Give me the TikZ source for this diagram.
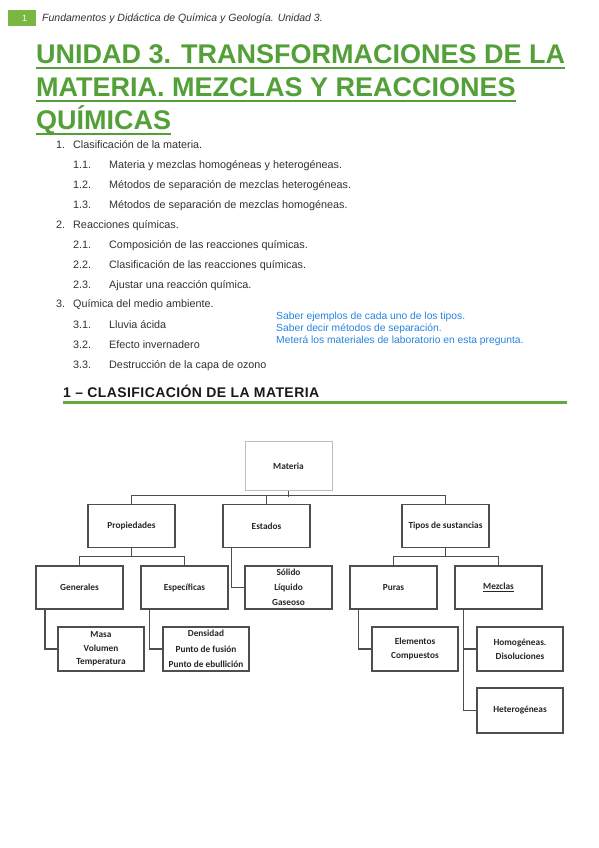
\documentclass[tikz,border=0pt]{standalone}
\usepackage{fontspec}
\setmainfont{Liberation Sans}
\newfontfamily\boxfont{Carlito}
\definecolor{titlegreen}{RGB}{84,160,56}
\definecolor{hdrgreen}{RGB}{122,183,66}
\definecolor{rulegreen}{RGB}{98,170,62}
\definecolor{noteblue}{RGB}{38,132,222}
\definecolor{boxline}{RGB}{78,78,78}
\definecolor{lightline}{RGB}{190,190,190}
\definecolor{txt}{RGB}{50,50,50}
\begin{document}
\begin{tikzpicture}[x=1pt,y=-1pt,
 titletext/.style={anchor=base west, inner sep=0pt, text=titlegreen, font=\fontsize{27}{27}\selectfont\bfseries},
 listtext/.style={anchor=base west, inner sep=0pt, text=txt, font=\fontsize{10.8}{12}\selectfont},
 notetext/.style={anchor=base west, inner sep=0pt, text=noteblue, font=\fontsize{10.3}{12}\selectfont},
 cbox/.style={draw=boxline, line width=1.4pt, minimum width=87pt, minimum height=43pt, inner sep=0pt, align=center, font=\boxfont\bfseries\fontsize{9.3}{15}\selectfont, text=black!85},
 conn/.style={draw=boxline, line width=1.6pt},
]
\fill[white] (0,0) rectangle (599,848);
\useasboundingbox (0,0) rectangle (599,848);
% header
\node[fill=hdrgreen, minimum width=28pt, minimum height=16pt, inner sep=0pt, anchor=north west, text=white, font=\fontsize{9}{9}\selectfont] (pg) at (8,10) {\hspace*{5pt}1};
\node[anchor=base west, inner sep=0pt, font=\itshape\fontsize{10.5}{12}\selectfont, text=txt] (hdr) at (42,22) {Fundamentos y Didáctica de Química y Geología. Unidad 3.};
% title
\node[titletext] (t1) at (36,64) {UNIDAD 3. TRANSFORMACIONES DE LA};
\node[titletext] (t2) at (36,97) {MATERIA. MEZCLAS Y REACCIONES};
\node[titletext] (t3) at (36,130) {QUÍMICAS};
\foreach \t in {t1,t2,t3} \draw[titlegreen, line width=1.6pt] ([yshift=-4pt]\t.base west) -- ([yshift=-4pt]\t.base east);
% list
\node[listtext] (n1) at (56,148) {1.};
\node[listtext] (l1) at (73,148) {Clasificación de la materia.};
\node[listtext] (n11) at (73,168) {1.1.};
\node[listtext] (l11) at (109,168) {Materia y mezclas homogéneas y heterogéneas.};
\node[listtext] (n12) at (73,188) {1.2.};
\node[listtext] (l12) at (109,188) {Métodos de separación de mezclas heterogéneas.};
\node[listtext] (n13) at (73,208) {1.3.};
\node[listtext] (l13) at (109,208) {Métodos de separación de mezclas homogéneas.};
\node[listtext] (n2) at (56,228) {2.};
\node[listtext] (l2) at (73,228) {Reacciones químicas.};
\node[listtext] (n21) at (73,248) {2.1.};
\node[listtext] (l21) at (109,248) {Composición de las reacciones químicas.};
\node[listtext] (n22) at (73,268) {2.2.};
\node[listtext] (l22) at (109,268) {Clasificación de las reacciones químicas.};
\node[listtext] (n23) at (73,288) {2.3.};
\node[listtext] (l23) at (109,288) {Ajustar una reacción química.};
\node[listtext] (n3) at (56,307) {3.};
\node[listtext] (l3) at (73,307) {Química del medio ambiente.};
\node[listtext] (n31) at (73,328) {3.1.};
\node[listtext] (l31) at (109,328) {Lluvia ácida};
\node[listtext] (n32) at (73,348) {3.2.};
\node[listtext] (l32) at (109,348) {Efecto invernadero};
\node[listtext] (n33) at (73,368) {3.3.};
\node[listtext] (l33) at (109,368) {Destrucción de la capa de ozono};
% notes
\node[notetext] (b1) at (276,319.5) {Saber ejemplos de cada uno de los tipos.};
\node[notetext] (b2) at (276,331.5) {Saber decir métodos de separación.};
\node[notetext] (b3) at (276,343.5) {Meterá los materiales de laboratorio en esta pregunta.};
% section
\node[anchor=base west, inner sep=0pt, font=\bfseries\fontsize{14}{14}\selectfont\addfontfeature{LetterSpace=3}, text=black!90] (sec) at (63,397) {1 – CLASIFICACIÓN DE LA MATERIA};
\coordinate (rs) at (63,402);
\coordinate (re) at (567,402);
\draw[rulegreen, line width=3pt] (rs) -- (re);
% diagram
\node[cbox, draw=lightline, line width=1pt, minimum height=49pt] (materia) at (288.5,466) {Materia};
\node[cbox] (prop) at (131.5,526) {Propiedades};
\node[cbox] (estados) at (266.5,526) {Estados};
\node[cbox] (tipos) at (445.5,526) {Tipos de sustancias};
\node[cbox] (gen) at (79.5,587.5) {Generales};
\node[cbox] (esp) at (184.5,587.5) {Específicas};
\node[cbox] (solido) at (288.5,587.5) {Sólido\\Líquido\\Gaseoso};
\node[cbox] (puras) at (393.5,587.5) {Puras};
\node[cbox] (mezclas) at (498.5,587.5) {\underline{Mezclas}};
\node[cbox, minimum width=86pt, minimum height=44pt, font=\boxfont\bfseries\fontsize{9.3}{13.5}\selectfont] (masa) at (101,649) {Masa\\Volumen\\Temperatura};
\node[cbox, minimum width=86pt, minimum height=44pt, font=\boxfont\bfseries\fontsize{9.3}{15.5}\selectfont] (dens) at (206,649) {Densidad\\Punto de fusión\\Punto de ebullición};
\node[cbox, minimum width=86pt, minimum height=44pt, font=\boxfont\bfseries\fontsize{9.3}{14}\selectfont] (elem) at (415,649) {Elementos\\Compuestos};
\node[cbox, minimum width=86pt, minimum height=44pt, font=\boxfont\bfseries\fontsize{9.3}{14}\selectfont] (homo) at (520,649) {Homogéneas.\\Disoluciones};
\node[cbox, minimum width=86pt, minimum height=45pt] (hetero) at (520,710.5) {Heterogéneas};
% connectors
\draw[conn] (materia.south) -- ++(0,5.5);
\draw[conn] (prop.north) -- ++(0,-8.5) -| (tipos.north);
\draw[conn] (estados.north) -- ++(0,-8.5);
\draw[conn] (prop.south) -- ++(0,9);
\draw[conn] (gen.north) -- ++(0,-9) -| (esp.north);
\draw[conn] (tipos.south) -- ++(0,9);
\draw[conn] (puras.north) -- ++(0,-9) -| (mezclas.north);
\draw[conn] ([xshift=9pt]estados.south west) |- (solido.west);
\draw[conn] ([xshift=9.5pt]gen.south west) |- (masa.west);
\draw[conn] ([xshift=9pt]esp.south west) |- (dens.west);
\draw[conn] ([xshift=9pt]puras.south west) |- (elem.west);
\draw[conn] ([xshift=9pt]mezclas.south west) |- (homo.west);
\draw[conn] ([xshift=9pt]mezclas.south west) |- (hetero.west);
\end{tikzpicture}
\end{document}
